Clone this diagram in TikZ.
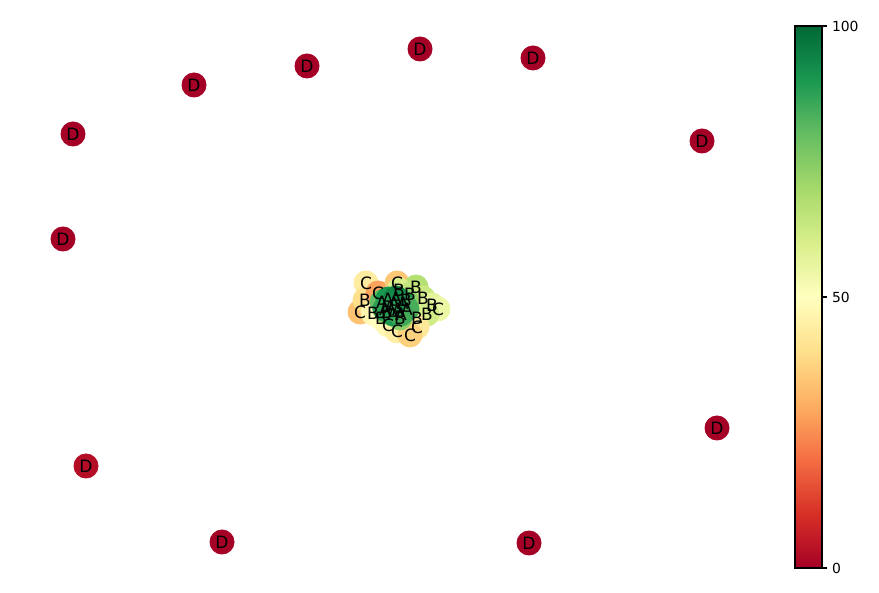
\documentclass[tikz,border=0pt]{standalone}
\usepackage{fontspec}
\setmainfont{DejaVu Sans}
\usetikzlibrary{calc}
\definecolor{cb0}{HTML}{A50026}
\definecolor{cb1}{HTML}{D73027}
\definecolor{cb2}{HTML}{F46D43}
\definecolor{cb3}{HTML}{FDAE61}
\definecolor{cb4}{HTML}{FEE08B}
\definecolor{cb5}{HTML}{FFFFBF}
\definecolor{cb6}{HTML}{D9EF8B}
\definecolor{cb7}{HTML}{A6D96A}
\definecolor{cb8}{HTML}{66BD63}
\definecolor{cb9}{HTML}{1A9850}
\definecolor{cb10}{HTML}{006837}
\pgfdeclareverticalshading{rdylgn}{100bp}{color(0bp)=(cb0); color(25bp)=(cb0); color(30bp)=(cb1); color(35bp)=(cb2); color(40bp)=(cb3); color(45bp)=(cb4); color(50bp)=(cb5); color(55bp)=(cb6); color(60bp)=(cb7); color(65bp)=(cb8); color(70bp)=(cb9); color(75bp)=(cb10); color(100bp)=(cb10)}
\tikzset{
  nd/.style={circle, minimum size=25pt, inner sep=0pt, draw=none, fill=#1},
  lab/.style={inner sep=0pt, font=\fontsize{17}{18}\selectfont, text=black},
  ticklab/.style={inner sep=0pt, anchor=west, font=\fontsize{13.9}{15}\selectfont},
  tickline/.style={line width=1.1pt},
}
\begin{document}
\begin{tikzpicture}[x=1pt,y=-1pt]
\useasboundingbox (0,0) rectangle (879,593);
% outer D nodes
\foreach \n/\x/\y/\c in {d1/194/85/cb0, d2/307/66/cb0, d3/420/49/cb0, d4/533/58/cb0, d5/702/141/cb0, d6/73/134/cb0, d7/63/239/cb0, d8/86/466/{cb0!70!cb1}, d9/222/542/cb0, d10/529/543/cb0, d11/717/428/cb0}
  {\node[nd=\c] (\n) at (\x,\y) {};}
% central cluster circles
\foreach \n/\x/\y/\c in {
  c5/360/312/{cb3!60!cb4}, c1/366/283/{cb4!60!cb5}, b5/365/300/cb4, c3/378/293/{cb3!85!cb2},
  c2/397/283/{cb3!50!cb4}, b1/416/287/{cb7!70!cb6}, b2/399/290/cb6, b3/410/294/{cb6!60!cb7},
  b4/423/298/{cb6!70!cb7}, b6/432/305/{cb6!70!cb5}, c4/438/309/{cb6!50!cb5},
  b7/373/313/{cb5!70!cb4}, b8/381/318/cb5, b9/427/314/{cb6!85!cb7}, b10/417/318/cb6,
  c6/388/325/{cb5!80!cb4}, c7/397/331/{cb5!50!cb4}, c9/417/327/{cb4!70!cb5}, c8/410/335/{cb4!70!cb3},
  b11/406/300/{cb7!60!cb8}, b12/387/312/{cb7!70!cb8}, b13/400/318/{cb7!60!cb8},
  a1/382/302/cb8, a2/388/299/cb9, a3/396/298/{cb9!60!cb10}, a4/403/303/cb9, a5/390/307/cb10,
  a6/398/309/{cb9!50!cb10}, a7/407/309/{cb8!60!cb9}, a8/393/314/cb9, a9/401/314/{cb8!50!cb9},
  a10/394/303/{cb9!70!cb10}, a11/385/309/{cb9!80!cb8}}
  {\node[nd=\c] (\n) at (\x,\y) {};}
% labels
\foreach \n in {d1,d2,d3,d4,d5,d6,d7,d8,d9,d10,d11}
  {\node[lab] at (\n) {D};}
\foreach \n in {c1,c2,c3,c4,c5,c6,c7,c8,c9}
  {\node[lab] at (\n) {C};}
\foreach \n in {b1,b2,b3,b4,b5,b6,b7,b8,b9,b10,b11,b12,b13}
  {\node[lab] at (\n) {B};}
\foreach \n in {a1,a2,a3,a4,a5,a6,a7,a8,a9,a10,a11}
  {\node[lab] at (\n) {A};}
% colorbar
\coordinate (cbbl) at (795,568);
\coordinate (cbtr) at (822,26);
\shade[shading=rdylgn] (cbbl) rectangle (cbtr);
\draw[line width=1.1pt] (cbbl) rectangle (cbtr);
\coordinate (t100) at (822,26);
\coordinate (t50) at (822,297);
\coordinate (t0) at (822,568);
\foreach \t/\l in {t100/100, t50/50, t0/0}{
  \draw[tickline] (\t) -- ++(4.9,0) coordinate (\t e);
  \node[ticklab] at ($(\t e)+(4.9,0)$) {\l};
}
\end{tikzpicture}
\end{document}
